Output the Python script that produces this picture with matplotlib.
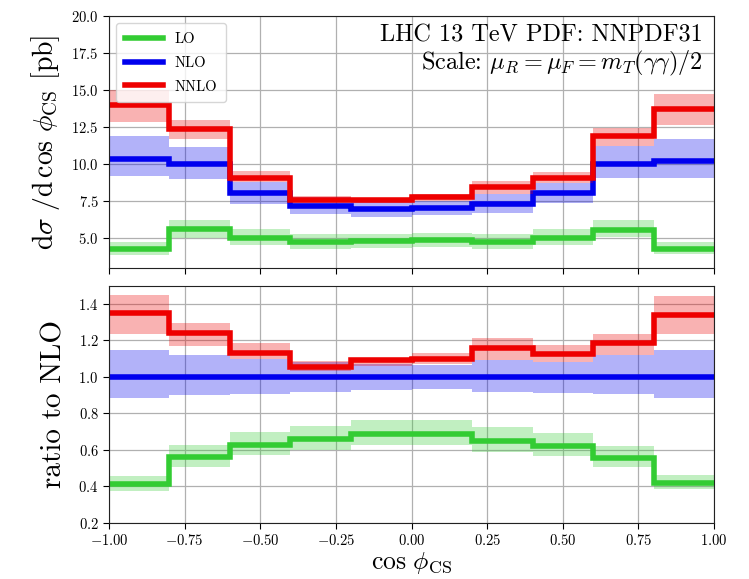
import numpy as np
import matplotlib
matplotlib.use("Agg")
import matplotlib.pyplot as plt

plt.rcParams["font.family"] = "serif"
plt.rcParams["font.serif"] = ["cmr10"]
plt.rcParams["mathtext.fontset"] = "cm"
plt.rcParams["axes.formatter.use_mathtext"] = True
plt.rcParams["axes.unicode_minus"] = True

# cos(phi_CS) binning
edges = np.linspace(-1.0, 1.0, 11)

# differential cross sections [pb] with scale-variation bands
lo = [4.30, 5.60, 5.02, 4.74, 4.80, 4.86, 4.74, 5.02, 5.59, 4.28]
lo_hi = [4.77, 6.25, 5.60, 5.28, 5.31, 5.37, 5.31, 5.60, 6.27, 4.75]
lo_lo = [3.88, 5.05, 4.58, 4.30, 4.36, 4.41, 4.30, 4.58, 5.07, 3.95]

nlo = [10.38, 10.00, 8.03, 7.20, 6.97, 7.05, 7.32, 8.09, 10.04, 10.22]
nlo_hi = [11.90, 11.19, 8.83, 7.78, 7.46, 7.51, 7.98, 8.75, 11.23, 11.71]
nlo_lo = [9.20, 8.99, 7.29, 6.61, 6.46, 6.60, 6.72, 7.38, 9.09, 9.05]

nnlo = [13.99, 12.40, 9.10, 7.60, 7.60, 7.76, 8.48, 9.10, 11.90, 13.70]
nnlo_hi = [15.04, 12.97, 9.53, 7.83, 7.70, 7.97, 8.89, 9.50, 12.43, 14.75]
nnlo_lo = [12.85, 11.68, 8.83, 7.44, 7.39, 7.54, 8.02, 8.75, 11.23, 12.65]

orders = ["LO", "NLO", "NNLO"]
colors = ["#33cc33", "#0000ee", "#ee0000"]
central = [lo, nlo, nnlo]
upper = [lo_hi, nlo_hi, nnlo_hi]
lower = [lo_lo, nlo_lo, nnlo_lo]

fig = plt.figure(figsize=(7.49, 5.79), dpi=100)
ax1 = fig.add_axes([0.1455, 0.5371, 0.8078, 0.4353])
ax2 = fig.add_axes([0.1455, 0.0967, 0.8078, 0.4099], sharex=ax1)

ref = np.array(nlo)
for name, c, y, hi, low in zip(orders, colors, central, upper, lower):
    y, hi, low = np.array(y), np.array(hi), np.array(low)
    ax1.stairs(hi, edges, baseline=low, fill=True, color=c, alpha=0.3, lw=0)
    ax1.stairs(y, edges, baseline=None, color=c, lw=4, label=name)
    ax2.stairs(hi / ref, edges, baseline=low / ref, fill=True, color=c, alpha=0.3, lw=0)
    ax2.stairs(y / ref, edges, baseline=None, color=c, lw=4)

ax1.set_xlim(-1, 1)
ax1.set_ylim(3, 20)
ax1.set_yticks(np.arange(5, 20.1, 2.5))
ax2.set_ylim(0.2, 1.5)
ax2.set_yticks(np.arange(0.2, 1.41, 0.2))
ax2.set_xticks(np.arange(-1, 1.01, 0.25))
plt.setp(ax1.get_xticklabels(), visible=False)

for ax in (ax1, ax2):
    ax.grid(True, color="#b0b0b0", lw=0.9)
    ax.set_axisbelow(True)
    ax.tick_params(labelsize=10.5, direction="out", length=4)
    for s in ax.spines.values():
        s.set_color("#222222")

ax1.set_ylabel(r"$\mathrm{d}\sigma\ /\mathrm{d}\,\cos\,\phi_\mathrm{CS}$ [pb]", fontsize=20)
ax2.set_ylabel("ratio to NLO", fontsize=21)
ax2.set_xlabel(r"$\cos\,\phi_\mathrm{CS}$", fontsize=18.5, labelpad=1)
ax1.yaxis.set_label_coords(-0.077, 0.5)
ax2.yaxis.set_label_coords(-0.069, 0.5)

ax1.text(0.982, 0.965, "LHC 13 TeV PDF: NNPDF31\n"
         r"Scale: $\mu_R = \mu_F = m_T(\gamma\gamma)/2$",
         transform=ax1.transAxes, ha="right", va="top", fontsize=17.5,
         multialignment="right", linespacing=1.1)

ax1.legend(loc="upper left", fontsize=10.5, handlelength=2.6, borderpad=0.6,
           labelspacing=0.7)

fig.savefig("out.png", dpi=100)
